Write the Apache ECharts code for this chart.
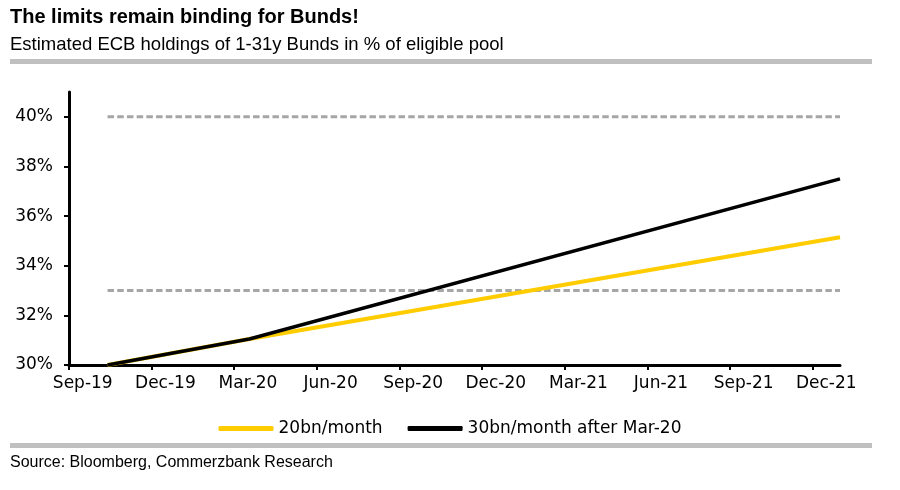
<!DOCTYPE html>
<html>
<head>
<meta charset="utf-8">
<script src="https://cdn.jsdelivr.net/npm/echarts@6/dist/echarts.min.js"></script>
<style>
  html, body { margin: 0; padding: 0; background: #fff; }
  #chart { width: 900px; height: 490px; }
</style>
</head>
<body>
<div id="chart"></div>
<script>
// Quarter tick labels (x axis measured in months since start of Sep-19)
const xTickLabels = ['Sep-19','Dec-19','Mar-20','Jun-20','Sep-20','Dec-20','Mar-21','Jun-21','Sep-21','Dec-21'];
const yTicks = [30, 32, 34, 36, 38, 40];
// Key points of the projections (months since start of Sep-19)
const pathMonths = [1.4, 6.55, 28];
const series20bn = [30.0, 31.05, 35.15];
const series30bn = [30.0, 31.05, 37.5];
// Limits
const limitLevels = [40, 33];
const limitMonths = [1.4, 28];

const seriesNames = ['20bn/month', '30bn/month after Mar-20'];

const toPairs = (xs, ys) => xs.map((x, i) => [x, ys[i]]);

const chart = echarts.init(document.getElementById('chart'));

const limitSeries = limitLevels.map(lv => ({
  type: 'line',
  name: 'limit ' + lv,
  data: limitMonths.map(m => [m, lv]),
  symbol: 'none',
  silent: true,
  lineStyle: { color: '#a6a6a6', width: 3, type: [6.5, 3.2] },
  z: 1
}));

chart.setOption({
  animation: false,
  grid: { left: 69, right: 60, top: 92, bottom: 125, containLabel: false },
  xAxis: {
    type: 'value',
    min: 0,
    max: 28,
    axisLine: { show: true, lineStyle: { color: '#000', width: 3 } },
    axisTick: {
      show: true, length: 5, inside: false,
      lineStyle: { color: '#000', width: 2 },
      customValues: xTickLabels.map((_, i) => i * 3)
    },
    axisLabel: {
      customValues: xTickLabels.map((_, i) => i * 3 + 0.5),
      formatter: v => xTickLabels[Math.round((v - 0.5) / 3)],
      fontFamily: 'DejaVu Sans', fontSize: 17, color: '#000', margin: 10
    },
    splitLine: { show: false }
  },
  yAxis: {
    type: 'value',
    min: 30,
    max: 41,
    axisLine: { show: true, lineStyle: { color: '#000', width: 3 } },
    axisTick: {
      show: true, length: 5, inside: false,
      lineStyle: { color: '#000', width: 2 },
      customValues: yTicks
    },
    axisLabel: {
      customValues: yTicks,
      formatter: v => v + '%',
      fontFamily: 'DejaVu Sans', fontSize: 17, color: '#000', margin: 16
    },
    splitLine: { show: false }
  },
  legend: {
    data: seriesNames,
    left: 'center',
    top: 415,
    icon: 'roundRect',
    itemWidth: 55,
    itemHeight: 5,
    itemGap: 25,
    textStyle: { fontFamily: 'DejaVu Sans', fontSize: 17, color: '#000' }
  },
  graphic: [
    { type: 'text', left: 10, top: 7, style: { text: 'The limits remain binding for Bunds!', font: 'bold 20px "Liberation Sans"', fill: '#000' } },
    { type: 'text', left: 10, top: 35, style: { text: 'Estimated ECB holdings of 1-31y Bunds in % of eligible pool', font: '18.5px "Liberation Sans"', fill: '#000' } },
    { type: 'rect', left: 10, top: 59, shape: { width: 862, height: 5 }, style: { fill: '#c0c0c0' } },
    { type: 'rect', left: 10, top: 443, shape: { width: 862, height: 5 }, style: { fill: '#c0c0c0' } },
    { type: 'text', left: 10, top: 455, style: { text: 'Source: Bloomberg, Commerzbank Research', font: '16px "Liberation Sans"', fill: '#000' } }
  ],
  series: [
    ...limitSeries,
    {
      type: 'line', name: seriesNames[0],
      data: toPairs(pathMonths, series20bn),
      symbol: 'none',
      lineStyle: { color: '#ffcc00', width: 4 },
      itemStyle: { color: '#ffcc00' },
      z: 2
    },
    {
      type: 'line', name: seriesNames[1],
      data: toPairs(pathMonths, series30bn),
      symbol: 'none',
      lineStyle: { color: '#000', width: 3.5 },
      itemStyle: { color: '#000' },
      z: 3
    }
  ]
});
</script>
</body>
</html>
